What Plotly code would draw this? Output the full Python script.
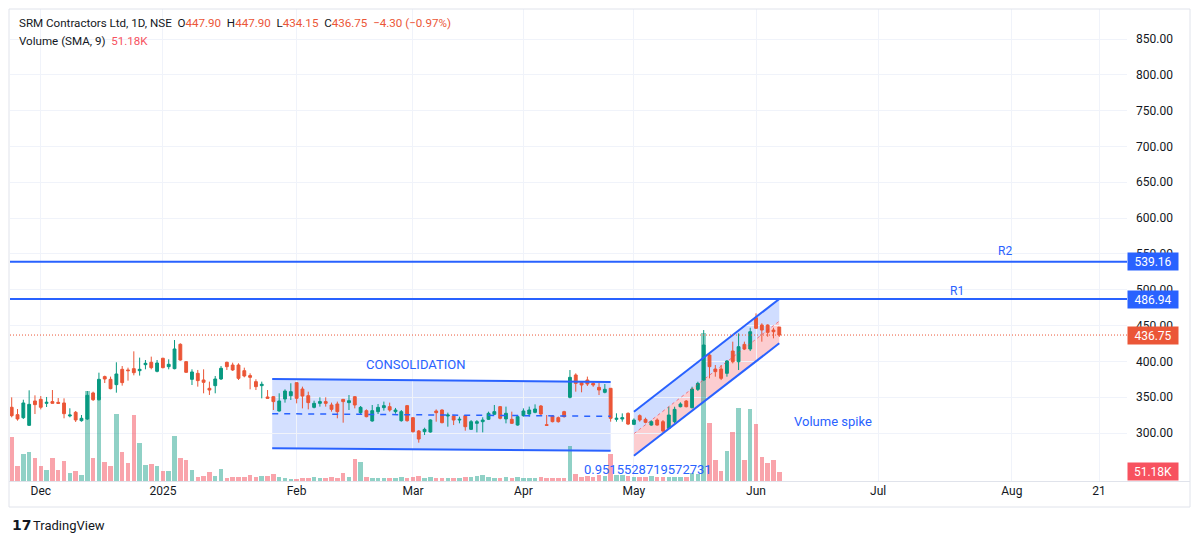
import plotly.graph_objects as go

# ---------------- data ----------------
opens = [335.9, 325.6, 321.4, 310.7, 344.7, 347.0, 341.4, 343.8, 342.8, 341.9,
         323.8, 328.9, 317.2, 319.6, 355.9, 346.5, 378.7, 374.9, 367.5, 388.9,
         388.0, 389.8, 387.0, 395.4, 398.7, 386.1, 404.3, 392.6, 389.8, 423.8,
         399.6, 374.9, 383.3, 374.0, 362.4, 366.1, 375.4, 398.7, 394.9, 394.9,
         387.0, 380.1, 371.7, 366.1, 350.3, 350.7, 330.7, 347.5, 352.1, 370.3,
         361.4, 352.1, 335.8, 341.4, 343.8, 339.1, 340.5, 347.0, 342.4, 350.7,
         328.4, 331.2, 316.8, 329.8, 335.4, 336.8, 329.8, 317.2, 338.2, 321.4,
         302.8, 301.9, 301.4, 330.7, 332.1, 323.7, 323.7, 318.1, 324.2, 305.1,
         313.5, 315.8, 319.1, 326.1, 336.8, 319.6, 319.1, 311.1, 324.2, 326.5,
         328.8, 337.7, 311.6, 323.7, 321.4, 329.8, 349.8, 381.0, 370.3, 374.0,
         369.3, 363.7, 356.8, 362.4, 319.1, 319.5, 327.4, 312.1, 324.2, 319.0,
         311.1, 318.1, 315.8, 306.5, 315.8, 336.7, 344.6, 335.3, 360.9, 373.9,
         408.8, 389.3, 389.3, 383.3, 414.4, 399.5, 423.7, 417.2, 461.0, 450.7,
         450.7, 443.7, 447.9]
highs = [349.8, 333.5, 346.5, 359.6, 352.6, 351.6, 350.3, 360.0, 348.9, 348.4,
         334.5, 330.7, 325.1, 358.6, 357.7, 384.2, 380.1, 378.7, 398.7, 393.5,
         391.2, 414.0, 405.2, 401.9, 406.6, 401.9, 405.0, 402.9, 429.8, 425.2,
         400.5, 388.9, 388.0, 388.9, 371.7, 379.6, 393.5, 399.6, 398.2, 397.3,
         391.2, 383.3, 375.0, 371.7, 360.0, 351.6, 355.4, 361.0, 369.4, 370.3,
         364.7, 357.7, 345.1, 349.8, 349.8, 342.4, 343.8, 347.5, 353.0, 351.6,
         337.7, 333.0, 339.1, 340.5, 343.8, 342.4, 335.0, 332.1, 339.1, 321.9,
         304.2, 307.4, 319.1, 333.0, 333.0, 328.4, 325.1, 322.8, 325.1, 318.1,
         318.1, 321.9, 329.8, 339.1, 337.7, 336.8, 329.8, 325.1, 334.4, 336.8,
         340.0, 339.1, 325.1, 325.1, 323.0, 331.0, 387.9, 383.3, 371.7, 378.7,
         371.0, 370.3, 368.4, 362.4, 327.5, 327.4, 328.8, 320.4, 326.0, 321.4,
         317.7, 320.4, 318.1, 336.7, 336.7, 342.8, 346.0, 364.6, 371.6, 443.7,
         411.2, 394.9, 394.9, 401.9, 427.5, 439.1, 427.5, 447.0, 467.0, 453.1,
         451.7, 447.0, 447.9]
lows = [321.9, 317.2, 319.6, 309.8, 326.5, 333.0, 336.3, 341.4, 340.5, 320.5,
        321.9, 315.4, 315.8, 318.2, 344.7, 345.2, 369.8, 361.0, 356.3, 366.1,
        373.1, 380.5, 380.1, 388.9, 388.9, 384.7, 390.3, 388.9, 388.9, 401.0,
        384.2, 367.0, 364.7, 355.4, 353.1, 355.4, 374.0, 388.0, 386.6, 374.0,
        377.7, 361.0, 360.0, 348.4, 348.4, 332.1, 329.8, 342.4, 346.1, 341.4,
        334.4, 333.0, 334.4, 336.8, 336.8, 329.8, 320.5, 314.4, 332.1, 334.4,
        326.1, 321.9, 315.8, 326.5, 331.2, 329.8, 327.0, 315.8, 315.8, 300.5,
        286.5, 297.2, 300.5, 315.8, 313.5, 308.8, 311.1, 313.5, 303.2, 304.2,
        300.9, 300.9, 318.1, 325.1, 319.1, 313.5, 312.6, 310.2, 322.8, 322.8,
        327.5, 325.1, 310.7, 314.9, 314.5, 321.5, 348.4, 357.7, 356.8, 365.6,
        364.5, 353.0, 355.4, 315.8, 315.8, 315.8, 311.1, 311.1, 315.8, 313.5,
        310.2, 310.2, 300.9, 305.6, 313.5, 335.8, 335.8, 334.4, 358.6, 372.5,
        376.3, 378.6, 373.9, 378.6, 397.2, 387.9, 415.8, 414.4, 445.1, 427.5,
        434.4, 432.1, 434.15]
closes = [324.2, 319.6, 341.9, 340.0, 339.6, 335.9, 342.8, 341.4, 341.4, 327.0,
          325.1, 318.2, 320.5, 352.6, 346.5, 374.9, 375.4, 361.9, 382.4, 370.3,
          387.0, 384.2, 388.9, 397.3, 391.2, 397.7, 391.2, 395.9, 417.3, 401.9,
          384.7, 385.2, 373.1, 370.7, 360.0, 375.4, 390.3, 392.6, 388.0, 376.3,
          379.6, 377.7, 364.7, 368.0, 348.4, 343.8, 344.7, 358.6, 357.7, 348.4,
          351.6, 342.4, 341.4, 343.8, 341.4, 333.0, 329.8, 343.8, 345.1, 339.1,
          335.8, 322.8, 331.2, 335.8, 338.2, 332.1, 332.1, 329.8, 317.2, 301.9,
          291.6, 305.1, 318.2, 328.4, 314.4, 325.1, 318.1, 319.1, 308.8, 315.8,
          315.8, 318.1, 327.5, 329.8, 320.5, 327.5, 313.5, 322.8, 330.7, 332.1,
          333.5, 326.5, 310.7, 315.8, 315.8, 322.8, 377.7, 369.3, 367.0, 368.4,
          367.0, 360.0, 361.0, 320.5, 320.5, 321.4, 312.5, 318.1, 318.1, 314.9,
          315.8, 311.1, 302.8, 325.1, 333.0, 340.5, 336.7, 361.4, 369.3, 422.8,
          392.6, 385.6, 376.3, 400.5, 399.5, 420.5, 417.2, 441.4, 446.1, 443.7,
          440.5, 441.4, 436.75]
volumes_k = [238, 81, 148, 155, 122, 81, 58, 122, 58, 106,
             43, 52, 32, 484, 122, 454, 103, 81, 364, 155,
             95, 356, 207, 88, 92, 79, 52, 52, 245, 126,
             115, 58, 20, 27, 50, 29, 67, 16, 22, 23,
             20, 34, 20, 29, 29, 36, 22, 14, 11, 11,
             16, 14, 22, 16, 14, 20, 16, 41, 22, 119,
             104, 20, 16, 18, 14, 16, 16, 20, 18, 22,
             27, 16, 20, 16, 14, 18, 16, 14, 22, 20,
             27, 32, 22, 16, 18, 23, 16, 20, 14, 18,
             16, 22, 14, 16, 14, 18, 189, 40, 22, 27,
             20, 32, 27, 146, 30, 32, 27, 23, 23, 20,
             27, 23, 23, 23, 23, 23, 23, 41, 38, 800,
             311, 113, 54, 164, 266, 392, 113, 387, 308, 128,
             95, 115, 51.18]

tick_bars = [5, 26, 49, 69, 88, 107, 128, 149, 172, 187]
tick_labels = ["Dec", "2025", "Feb", "Mar", "Apr", "May", "Jun", "Jul", "Aug", "21"]
price_ticks = [300, 350, 400, 450, 500, 550, 600, 650, 700, 750, 800, 850]
r1_level = 486.94
r2_level = 539.16
last_open, last_high, last_low, last_close = 447.90, 447.90, 434.15, 436.75
change, change_pct = -4.30, -0.97
last_volume_k = 51.18
pearson_r = "0.9515528719572731"

# drawings (bar index, price)
consolidation = dict(x0=44.8, x1=103.0, top0=375.4, top1=371.2, bot0=278.6, bot1=275.3)
rising = dict(x0=107.0, x1=132.0, top0=329.7, top1=487.1, bot0=268.3, bot1=425.2)

# ---------------- styling ----------------
UP = "#089981"
DOWN = "#eb5637"
BLUE = "#2962ff"
TEXT = "#131722"
GRID = "#f0f3fa"
FONT = "Roboto"

OFF = 8                      # page body margin
W, H = 1200 - OFF, 542 - OFF
PL, PR, PT, PB = 10, 1127, 9, 482   # plot box in page pixels
ML, MR, MT, MB = PL - OFF, W - (PR - OFF), PT - OFF, H - (PB - OFF)
PW, PH = PR - PL, PB - PT


def px(xp):
    return (xp - PL) / PW


def py(yp):
    return (PB - yp) / PH


idx = list(range(len(opens)))
vol_colors = ["rgba(8,153,129,0.45)" if c >= o else "rgba(242,54,69,0.45)"
              for o, c in zip(opens, closes)]

fig = go.Figure()
fig.add_trace(go.Bar(x=idx, y=volumes_k, marker=dict(color=vol_colors, line=dict(width=0)),
                     width=0.78, yaxis="y", hoverinfo="skip", showlegend=False))
fig.add_trace(go.Candlestick(
    x=idx, open=opens, high=highs, low=lows, close=closes, yaxis="y2",
    increasing=dict(line=dict(color=UP, width=1), fillcolor=UP),
    decreasing=dict(line=dict(color=DOWN, width=1), fillcolor=DOWN),
    whiskerwidth=0, showlegend=False, hoverinfo="skip"))

# price range from pixel geometry: 850 at y=39, 300 at y=433
ppp = 550 / (433 - 39)
y_top = 850 + (39 - PT) * ppp
y_bot = 300 - (PB - 433) * ppp
kpp = 5.4  # volume (K) per pixel
bar_px = 5.815
x_left = (PL - 11.7) / bar_px
x_right = (PR - 11.7) / bar_px

shapes = []
c = consolidation
shapes.append(dict(type="path", xref="x", yref="y2", layer="below",
                   path=f"M {c['x0']},{c['top0']} L {c['x1']},{c['top1']} L {c['x1']},{c['bot1']} L {c['x0']},{c['bot0']} Z",
                   fillcolor="rgba(41,98,255,0.2)", line=dict(width=0)))
for a, b in (("top0", "top1"), ("bot0", "bot1")):
    shapes.append(dict(type="line", xref="x", yref="y2", layer="above",
                       x0=c["x0"], x1=c["x1"], y0=c[a], y1=c[b], line=dict(color=BLUE, width=2)))
shapes.append(dict(type="line", xref="x", yref="y2", layer="above",
                   x0=c["x0"], x1=c["x1"], y0=(c["top0"] + c["bot0"]) / 2, y1=(c["top1"] + c["bot1"]) / 2,
                   line=dict(color=BLUE, width=1.5, dash="6px,6px")))

r = rising
m0 = (r["top0"] + r["bot0"]) / 2
m1 = (r["top1"] + r["bot1"]) / 2
shapes.append(dict(type="path", xref="x", yref="y2", layer="below",
                   path=f"M {r['x0']},{r['top0']} L {r['x1']},{r['top1']} L {r['x1']},{m1} L {r['x0']},{m0} Z",
                   fillcolor="rgba(41,98,255,0.22)", line=dict(width=0)))
shapes.append(dict(type="path", xref="x", yref="y2", layer="below",
                   path=f"M {r['x0']},{m0} L {r['x1']},{m1} L {r['x1']},{r['bot1']} L {r['x0']},{r['bot0']} Z",
                   fillcolor="rgba(242,54,69,0.25)", line=dict(width=0)))
for a, b in (("top0", "top1"), ("bot0", "bot1")):
    shapes.append(dict(type="line", xref="x", yref="y2", layer="above",
                       x0=r["x0"], x1=r["x1"], y0=r[a], y1=r[b], line=dict(color=BLUE, width=2)))
shapes.append(dict(type="line", xref="x", yref="y2", layer="above",
                   x0=r["x0"], x1=r["x1"], y0=m0, y1=m1,
                   line=dict(color="rgba(242,54,69,0.6)", width=1, dash="3px,3px")))

for lvl in (r1_level, r2_level):
    shapes.append(dict(type="line", xref="paper", yref="y2", layer="above",
                       x0=0, x1=1, y0=lvl, y1=lvl, line=dict(color=BLUE, width=2)))
shapes.append(dict(type="line", xref="paper", yref="y2", layer="above",
                   x0=0, x1=1, y0=last_close, y1=last_close,
                   line=dict(color=DOWN, width=1, dash="1px,2px")))

# chart frame
shapes.append(dict(type="rect", xref="paper", yref="paper", x0=px(9), x1=px(1190), y0=py(507), y1=py(9),
                   line=dict(color="#e0e3eb", width=1), layer="above"))
shapes.append(dict(type="line", xref="paper", yref="paper", x0=px(9), x1=px(1190), y0=py(481.5), y1=py(481.5),
                   line=dict(color="#e0e3eb", width=1), layer="above"))

annotations = []


def fmt(v):
    return f"{v:.2f}"


def red_span(t):
    return f"<span style='color:{DOWN}'>{t}</span>"


sp = "\u00a0\u00a0"
header1 = ("SRM Contractors Ltd, 1D, NSE" + sp + "O" + red_span(fmt(last_open)) + sp + "H" + red_span(fmt(last_high))
           + sp + "L" + red_span(fmt(last_low)) + sp + "C" + red_span(fmt(last_close)) + sp
           + red_span(f"\u2212{abs(change):.2f} (\u2212{abs(change_pct):.2f}%)"))
annotations.append(dict(xref="paper", yref="paper", x=px(17), y=py(23), xanchor="left", yanchor="middle",
                        text=header1, showarrow=False, font=dict(family=FONT, size=11.6, color=TEXT)))
annotations.append(dict(xref="paper", yref="paper", x=px(17), y=py(41), xanchor="left", yanchor="middle",
                        text="Volume (SMA, 9)" + sp + f"<span style='color:#f7525f'>{last_volume_k:.2f}K</span>",
                        showarrow=False, font=dict(family=FONT, size=11.6, color=TEXT)))

# axis value labels
for val, col in ((r2_level, BLUE), (r1_level, BLUE), (last_close, DOWN)):
    annotations.append(dict(xref="paper", yref="y2", x=1, y=val, xanchor="left", yanchor="middle",
                            text=fmt(val), showarrow=False, bgcolor=col, width=46, height=13, borderpad=2,
                            font=dict(family=FONT, size=12, color="white")))
annotations.append(dict(xref="paper", yref="y", x=1, y=last_volume_k, xanchor="left", yanchor="middle",
                        text=f"{last_volume_k:.2f}K", showarrow=False, bgcolor="#f7525f", width=46, height=13,
                        borderpad=2, font=dict(family=FONT, size=12, color="white")))

# drawing texts
annotations.append(dict(xref="x", yref="y2", x=69.5, y=396.3, text="CONSOLIDATION", showarrow=False,
                        font=dict(family=FONT, size=13, color=BLUE)))
annotations.append(dict(xref="x", yref="y2", x=141.2, y=315.4, text="Volume spike", showarrow=False,
                        font=dict(family=FONT, size=13, color=BLUE)))
annotations.append(dict(xref="x", yref="y2", x=170.8, y=554.1, text="R2", showarrow=False,
                        font=dict(family=FONT, size=12, color=BLUE)))
annotations.append(dict(xref="x", yref="y2", x=162.6, y=498.2, text="R1", showarrow=False,
                        font=dict(family=FONT, size=12, color=BLUE)))
annotations.append(dict(xref="x", yref="y2", x=109.4, y=248.4, text=pearson_r, showarrow=False,
                        font=dict(family=FONT, size=13, color=BLUE)))

# logo
annotations.append(dict(xref="paper", yref="paper", x=px(10), y=py(525), xanchor="left", yanchor="middle",
                        text="<b>17</b>", showarrow=False, font=dict(family="DejaVu Sans", size=14, color=TEXT)))
annotations.append(dict(xref="paper", yref="paper", x=px(31), y=py(525), xanchor="left", yanchor="middle",
                        text="TradingView", showarrow=False, font=dict(family=FONT, size=13, color=TEXT)))

fig.update_layout(
    width=W, height=H, margin=dict(l=ML, r=MR, t=MT, b=MB),
    paper_bgcolor="white", plot_bgcolor="white",
    showlegend=False, bargap=0,
    xaxis=dict(type="linear", range=[x_left, x_right], tickmode="array", tickvals=tick_bars,
               ticktext=tick_labels, showgrid=True, gridcolor=GRID, gridwidth=1, zeroline=False,
               showline=False, ticks="", rangeslider=dict(visible=False),
               tickfont=dict(family=FONT, size=12, color=TEXT)),
    yaxis=dict(range=[-kpp, PH * kpp - kpp], visible=False, showgrid=False, fixedrange=True),
    yaxis2=dict(overlaying="y", side="right", range=[y_bot, y_top], tickmode="array", tickvals=price_ticks,
                ticktext=[fmt(v) for v in price_ticks], showgrid=True, gridcolor=GRID, gridwidth=1,
                zeroline=False, showline=False, ticks="", ticklabelstandoff=8,
                tickfont=dict(family=FONT, size=12, color=TEXT)),
    shapes=shapes, annotations=annotations,
)

fig.write_html("out.html")
